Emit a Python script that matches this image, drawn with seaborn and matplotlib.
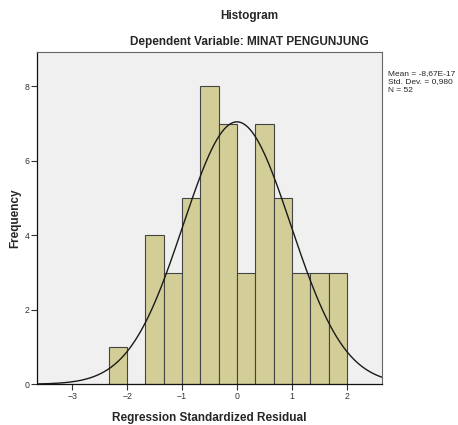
import numpy as np
import pandas as pd
import seaborn as sns
import matplotlib
matplotlib.use("Agg")
import matplotlib.pyplot as plt

# Data
bin_edges = [-2.333, -2.0, -1.667, -1.333, -1.0, -0.667, -0.333, 0.0,
             0.333, 0.667, 1.0, 1.333, 1.667, 2.0]
counts = [1, 0, 4, 3, 5, 8, 7, 3, 7, 5, 3, 3, 3]
mean_val = -8.67e-17
std_val = 0.980
n_val = 52

sns.set_style("white")
plt.rcParams['font.family'] = ['Liberation Sans', 'DejaVu Sans']

centers = [(bin_edges[i] + bin_edges[i + 1]) / 2 for i in range(len(counts))]
df = pd.DataFrame({'resid': centers, 'count': counts})

fig = plt.figure(figsize=(4.58, 4.25), dpi=100)
ax = fig.add_axes([0.081, 0.096, 0.753, 0.782])
ax.set_facecolor('#F0F0F0')

sns.histplot(data=df, x='resid', weights='count', bins=bin_edges, ax=ax,
             color='#D3CE97', edgecolor='#444444', linewidth=0.8, alpha=1)

# normal curve
bw = bin_edges[1] - bin_edges[0]
xs = np.linspace(-3.64, 2.64, 300)
ys = n_val * bw * np.exp(-0.5 * ((xs - mean_val) / std_val) ** 2) / (std_val * np.sqrt(2 * np.pi))
sns.lineplot(x=xs, y=ys, ax=ax, color='#1a1a1a', linewidth=1.0)

ax.set_xlim(-3.64, 2.64)
ax.set_ylim(0, 8.93)
ax.set_xticks([-3, -2, -1, 0, 1, 2])
ax.set_yticks([0, 2, 4, 6, 8])
ax.tick_params(axis='both', labelsize=6.3, length=4, width=0.8, colors='#333333',
               direction='out', bottom=True, left=True, pad=1.5)
ax.grid(False)
for side in ['top', 'right']:
    ax.spines[side].set_color('#666666')
    ax.spines[side].set_linewidth(0.8)
for side in ['left', 'bottom']:
    ax.spines[side].set_color('#111111')
    ax.spines[side].set_linewidth(0.9)

ax.set_xlabel('Regression Standardized Residual', fontsize=8.5, fontweight='bold', labelpad=8)
ax.set_ylabel('Frequency', fontsize=8.5, fontweight='bold', labelpad=2)

fig.text(0.545, 0.963, 'Histogram', ha='center', va='center', fontsize=8.5, fontweight='bold')
fig.text(0.545, 0.902, 'Dependent Variable: MINAT PENGUNJUNG', ha='center', va='center',
         fontsize=8.5, fontweight='bold')

fig.text(0.847, 0.835, 'Mean = -8,67E-17\nStd. Dev. = 0,980\nN = 52', ha='left', va='top',
         fontsize=6, linespacing=1.25)

fig.savefig('out.png', dpi=100, facecolor='white')
